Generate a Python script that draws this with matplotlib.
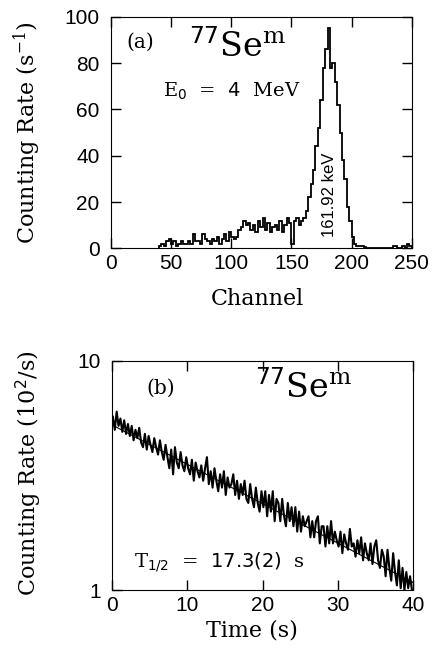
import numpy as np
import matplotlib
matplotlib.use("Agg")
import matplotlib.pyplot as plt
from matplotlib.ticker import FixedLocator, NullLocator

plt.rcParams['mathtext.fontset'] = 'dejavuserif'

# ---------------- data: panel (a) gamma spectrum ----------------
spec_channel_edges = list(range(40, 252, 2))  # bin edges, 2 channels wide
spec_rate = [
    1, 2, 1, 3, 4, 2, 3, 1, 2, 3,          # 40-58
    2, 2, 3, 2, 6, 3, 3, 2, 6, 4,          # 60-78
    3, 2, 4, 3, 5, 2, 4, 6, 3, 7,          # 80-98
    5, 4, 5, 8, 9, 12, 10, 11, 8, 10,      # 100-118
    7, 12, 9, 13, 8, 11, 7, 9, 10, 8,      # 120-138
    12, 7, 10, 13, 11, 2, 12, 13, 10, 12,  # 140-158
    13, 16, 22, 28, 34, 44, 52, 64, 78, 86,  # 160-178
    95, 78, 80, 72, 62, 50, 38, 30, 18, 12,  # 180-198
    5, 2, 1, 1, 1, 0.5, 0, 0, 0, 0,        # 200-218
    0, 0, 0, 0, 0, 0, 0, 1, 1, 0,          # 220-238
    0, 1, 0, 2, 1,                          # 240-248
]

# ---------------- data: panel (b) decay curve ----------------
decay_t0 = 0.1
decay_dt = 0.25
decay_rate = [
    5.7, 5.0, 6.0, 5.2, 5.6, 4.9, 5.5, 4.8,
    5.3, 4.7, 5.2, 4.5, 5.0, 4.6, 5.1, 4.4,
    4.2, 4.8, 4.1, 4.7, 4.3, 4.0, 4.6, 4.2,
    3.9, 4.5, 4.0, 3.7, 4.3, 3.8, 3.4, 4.1,
    3.2, 4.2, 3.6, 3.4, 4.0, 3.5, 3.3, 3.8,
    3.4, 3.2, 3.7, 3.0, 3.6, 3.3, 3.1, 3.5,
    3.0, 3.4, 3.8, 2.9, 3.3, 2.8, 3.4, 3.0,
    2.7, 3.2, 2.8, 3.3, 2.6, 3.1, 2.8, 2.9,
    3.2, 2.6, 3.0, 2.5, 2.9, 2.6, 3.0, 2.5,
    2.4, 2.9, 2.5, 2.3, 2.8, 2.4, 2.2, 2.7,
    2.3, 2.7, 2.1, 2.6, 2.2, 2.7, 2.0, 2.5,
    2.4, 2.0, 2.5, 2.1, 1.9, 2.4, 2.0, 2.3,
    1.9, 2.3, 1.8, 2.2, 1.8, 2.1, 1.9, 2.0,
    2.1, 1.7, 2.0, 1.7, 2.0, 2.1, 1.6, 1.9,
    1.9, 1.55, 1.9, 1.6, 2.0, 1.6, 1.8, 1.65,
    1.55, 1.8, 1.45, 1.75, 1.6, 1.5, 1.85, 1.55,
    1.6, 1.4, 1.65, 1.45, 1.7, 1.35, 1.6, 1.45,
    1.35, 1.6, 1.3, 1.55, 1.65, 1.35, 1.25, 1.5,
    1.4, 1.15, 1.5, 1.25, 1.1, 1.45, 1.2, 1.05,
    1.35, 1.02, 1.25, 1.0, 1.2, 1.02, 1.15, 1.0,
]
decay_time = decay_t0 + decay_dt * np.arange(len(decay_rate))
fit_time = [0, 40]
fit_rate = [5.25, 1.08]

xticks_a = [0, 50, 100, 150, 200, 250]
yticks_a = [0, 20, 40, 60, 80, 100]
xticks_b = [0, 10, 20, 30, 40]
yticks_b = [1, 10]

# ---------------- figure ----------------
fig = plt.figure(figsize=(4.33, 6.5), dpi=100)
tickfont = dict(family='Liberation Sans', size=15)
labelfont = dict(family='DejaVu Serif', size=16)

axa = fig.add_axes([0.256, 0.618, 0.695, 0.356])
axa.stairs(spec_rate, spec_channel_edges, color='black', lw=1.3)
axa.set_xlim(0, 250)
axa.set_ylim(0, 100)
axa.set_xticks(xticks_a)
axa.set_yticks(yticks_a)
axa.set_xticklabels([str(v) for v in xticks_a], **tickfont)
axa.set_yticklabels([str(v) for v in yticks_a], **tickfont)
axa.tick_params(direction='in', length=7, width=1, top=True, right=True)
axa.tick_params(axis='x', pad=4)
axa.tick_params(axis='y', pad=8)
axa.set_xlabel('Channel', **labelfont)
axa.set_ylabel(r'Counting Rate (s$^{-1}$)', **labelfont)
axa.xaxis.set_label_coords(0.488, -0.172)
axa.yaxis.set_label_coords(-0.226, 0.5)
axa.text(13, 89, '(a)', family='DejaVu Serif', size=14.5, va='center')
axa.text(65, 87, r'$^{\mathsf{77}}\mathrm{Se}^{\mathrm{m}}$', size=24, va='center')
axa.text(43, 68, r'E$_{\mathsf{0}}$  =  $\mathsf{4}$  MeV', family='DejaVu Serif',
         size=14, va='center')
axa.text(182, 23, '161.92 keV', family='Liberation Sans', size=12, rotation=90,
         ha='center', va='center')

axb = fig.add_axes([0.259, 0.092, 0.695, 0.353])
axb.plot(fit_time, fit_rate, color='black', lw=0.8)
axb.plot(decay_time, decay_rate, color='black', lw=1.5)
axb.set_yscale('log')
axb.set_xlim(0, 40)
axb.set_ylim(1, 10)
axb.xaxis.set_major_locator(FixedLocator(xticks_b))
axb.yaxis.set_major_locator(FixedLocator(yticks_b))
axb.yaxis.set_minor_locator(NullLocator())
axb.set_xticklabels([str(v) for v in xticks_b], **tickfont)
axb.set_yticklabels([str(v) for v in yticks_b], **tickfont)
axb.tick_params(direction='in', length=7, width=1, top=True, right=False)
axb.tick_params(axis='x', pad=4)
axb.tick_params(axis='y', pad=8)
axb.set_xlabel('Time (s)', **labelfont)
axb.set_ylabel(r'Counting Rate (10$^{\mathsf{2}}$/s)', **labelfont)
axb.xaxis.set_label_coords(0.465, -0.128)
axb.yaxis.set_label_coords(-0.226, 0.51)
axb.text(4.5, 7.6, '(b)', family='DejaVu Serif', size=14.5, va='center')
axb.text(19.0, 7.6, r'$^{\mathsf{77}}\mathrm{Se}^{\mathrm{m}}$', size=24, va='center')
axb.text(2.9, 1.33, r'T$_{\mathsf{1/2}}$  =  $\mathsf{17.3(2)}$  s', family='DejaVu Serif',
         size=14, va='center')

fig.savefig('out.png', dpi=100)
